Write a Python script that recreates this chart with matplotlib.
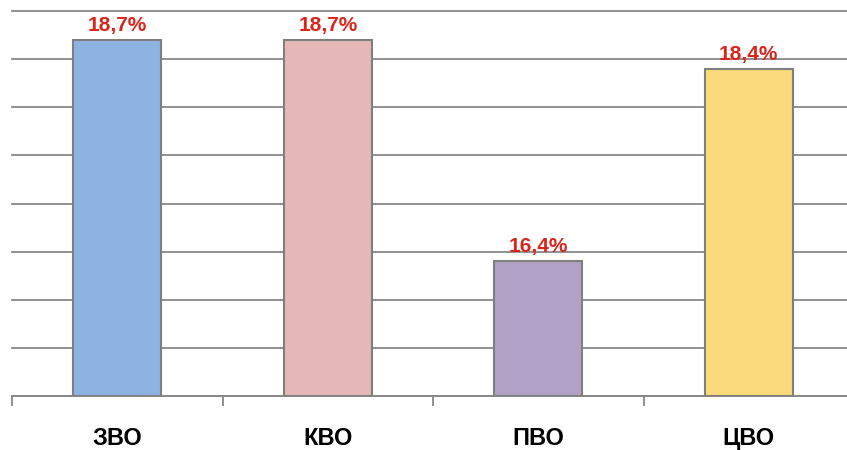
import matplotlib.pyplot as plt
import numpy as np

categories = ['ЗВО', 'КВО', 'ПВО', 'ЦВО']
values = [18.7, 18.7, 16.4, 18.4]
labels = ['18,7%', '18,7%', '16,4%', '18,4%']
colors = ['#8DB3E2', '#E5B8B7', '#B2A1C7', '#FADA7A']

fig = plt.figure(figsize=(8.47, 4.5), dpi=100)
# axis runs past the right edge of the picture, as in the original
ax = fig.add_axes([12 / 847, 54 / 450, 842 / 847, 385 / 450])

x = np.arange(len(categories))
ax.bar(x, np.array(values) - 15, bottom=15, width=0.42, color=colors,
       edgecolor='#7F7F7F', linewidth=1.5, zorder=3)

for xi, v, lab in zip(x, values, labels):
    ax.text(xi, v + 0.05, lab, ha='center', va='bottom', color='#D9261C',
            fontsize=15, fontweight='bold', family='Liberation Sans', zorder=4)

ax.set_xlim(-0.5, len(categories) - 0.5)
ax.set_ylim(15, 19)
ax.set_yticks(np.arange(15, 19.01, 0.5))
ax.yaxis.grid(True, color='#888888', linewidth=1.3, zorder=0)
for gl in ax.get_ygridlines():
    gl.set_clip_on(False)
ax.set_axisbelow(True)
ax.tick_params(axis='y', left=False, labelleft=False)

ax.set_xticks(x)
ax.set_xticklabels(categories, fontsize=17, fontweight='bold', family='Liberation Sans')
ax.tick_params(axis='x', length=0, pad=22)
ax.set_xticks(np.arange(-0.5, len(categories)), minor=True)
ax.tick_params(axis='x', which='minor', length=7, width=1.3, color='#888888', direction='out')

for side in ['top', 'right', 'left']:
    ax.spines[side].set_visible(False)
ax.spines['bottom'].set_color('#888888')
ax.spines['bottom'].set_linewidth(1.3)

fig.savefig('out.png', dpi=100)
